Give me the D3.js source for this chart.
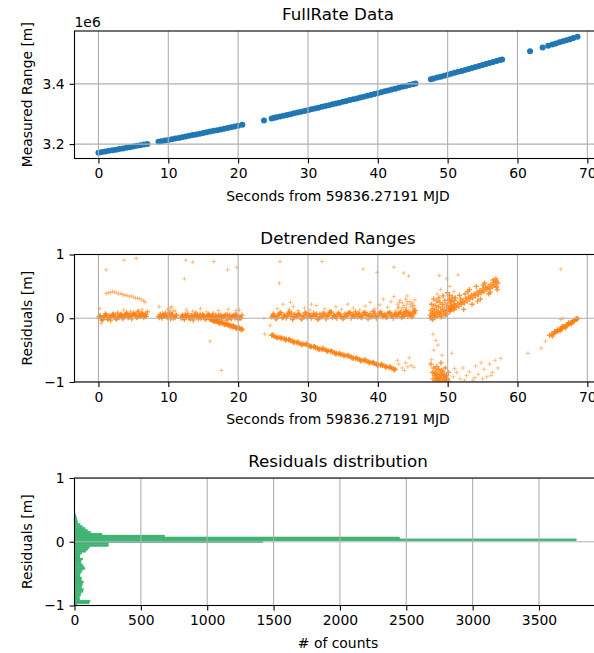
<!DOCTYPE html>
<html><head><meta charset="utf-8">
<script src="https://cdn.jsdelivr.net/npm/d3@7"></script>
<style>
body{margin:0;background:#fff;overflow:hidden}
svg{display:block}
text{font-family:"DejaVu Sans",sans-serif;fill:#000}
</style>
</head><body>
<svg id="chart" width="594" height="653"></svg>
<script>
// ---------------- DATA ----------------
const titles = ["FullRate Data", "Detrended Ranges", "Residuals distribution"];
const xLabels = ["Seconds from 59836.27191 MJD", "Seconds from 59836.27191 MJD", "# of counts"];
const yLabels = ["Measured Range [m]", "Residuals [m]", "Residuals [m]"];
const timeTicks = [0, 10, 20, 30, 40, 50, 60, 70];
const rangeTicks = [3.2, 3.4];          // in units of 1e6 m
const rangeOffsetLabel = "1e6";
const residualTicks = [-1, 0, 1];
const countTicks = [0, 500, 1000, 1500, 2000, 2500, 3000, 3500];

// Measured range [1e6 m] vs seconds
const rangeSamples = [
[0,3.1714],[0.5,3.1734],[1,3.1754],[1.5,3.1775],[2,3.1795],[2.5,3.1816],[3,3.1836],[3.5,3.1857],[4,3.1878],[4.5,3.1899],[5,3.1920],[5.5,3.1942],[6,3.1963],[6.5,3.1985],[7,3.2006],
[8.6,3.2076],[9,3.2094],[9.5,3.2116],[10,3.2138],[10.5,3.2161],[11,3.2183],[11.5,3.2206],[12,3.2229],[12.5,3.2252],[13,3.2275],[13.5,3.2298],[14,3.2321],[14.5,3.2344],[15,3.2368],[15.5,3.2391],[16,3.2415],[16.5,3.2439],[17,3.2463],[17.5,3.2487],[18,3.2511],[18.5,3.2536],[19,3.2560],[19.5,3.2585],[20,3.2609],[20.6,3.2639],
[23.7,3.2785],
[24.8,3.2852],[25.2,3.2872],[25.5,3.2888],[26,3.2914],[26.5,3.2940],[27,3.2967],[27.5,3.2993],[28,3.3020],[28.5,3.3046],[29,3.3073],[29.5,3.3100],[30,3.3127],[30.5,3.3154],[31,3.3181],[31.5,3.3208],[32,3.3236],[32.5,3.3263],[33,3.3291],[33.5,3.3319],[34,3.3347],[34.5,3.3375],[35,3.3403],[35.5,3.3431],[36,3.3460],[36.5,3.3488],[37,3.3517],[37.5,3.3545],[38,3.3574],[38.5,3.3603],[39,3.3632],[39.5,3.3662],[40,3.3691],[40.5,3.3720],[41,3.3750],[41.5,3.3779],[42,3.3809],[42.5,3.3839],[43,3.3869],[43.5,3.3899],[44,3.3930],[44.5,3.3960],[45,3.3990],[45.4,3.4015],
[47.6,3.4151],[48,3.4176],[48.5,3.4207],[49,3.4238],[49.5,3.4270],[50,3.4302],[50.5,3.4333],[51,3.4365],[51.5,3.4397],[52,3.4429],[52.5,3.4461],[53,3.4494],[53.5,3.4526],[54,3.4559],[54.5,3.4591],[55,3.4624],[55.5,3.4657],[56,3.4690],[56.5,3.4723],[57,3.4757],[57.5,3.4790],[57.8,3.4810],
[61.8,3.5082],[63.6,3.5207],
[64.4,3.5263],[65,3.5305],[65.5,3.5340],[66,3.5376],[66.5,3.5411],[67,3.5447],[67.5,3.5482],[68,3.5518],[68.6,3.5561]
];

// Detrended residuals [m] vs seconds — dense tracks
const bandPoints = [
[0,0],[0.25,0.04],[0.5,-0.03],[0.75,0.02],[1,0.07],[1.25,0],[1.5,0.04],[1.75,-0.03],[2,0.06],[2.25,0.02],[2.5,-0.01],[2.75,0.08],[3,0.02],[3.25,0.06],[3.5,-0.01],[3.75,0.04],[4,0.08],[4.25,0.01],[4.5,0.06],[4.75,-0.01],[5,0.08],[5.25,0.04],[5.5,0.01],[5.75,0.1],[6,0.03],[6.25,0.08],[6.5,0.01],[6.75,0.06],[7,0.1],
[0.12,0.03],[0.62,-0.02],[1.12,0.05],[1.62,0.01],[2.12,0.06],[2.62,-0.01],[3.12,0.05],[3.62,0.02],[4.12,0.07],[4.62,0.03],[5.12,0.06],[5.62,0.02],[6.12,0.07],[6.62,0.04],
[0.37,0.01],[0.87,0.04],[1.37,-0.02],[1.87,0.03],[2.37,0.05],[2.87,0.01],[3.37,0.04],[3.87,0.06],[4.37,0.02],[4.87,0.05],[5.37,0.07],[5.87,0.04],[6.37,0.06],[6.87,0.03],
[8.6,0.03],[8.85,0.06],[9.1,0],[9.35,0.04],[9.6,0.08],[9.85,0.01],[10.1,0.05],[10.35,-0.01],[10.6,0.06],[10.85,0.02],[11.1,0.04],
[8.72,0.01],[9.22,0.07],[9.72,0.03],[10.22,0.09],[10.72,0],[11.2,0.05],
[8.97,0.02],[9.47,0.05],[9.97,0.03],[10.47,0.06],[10.97,0.01],
[11.8,0],[12.05,0.05],[12.3,-0.02],[12.55,0.03],[12.8,0.07],[13.05,0.01],[13.3,0.04],[13.55,-0.03],[13.8,0.05],[14.05,0.02],[14.3,-0.01],[14.55,0.06],[14.8,0.01],[15.05,0.04],[15.3,-0.02],[15.55,0.03],[15.8,0.06],[16.05,0],[16.3,0.03],[16.55,-0.03],[16.8,0.05],[17.05,0.01],[17.3,-0.02],[17.55,0.04],[17.8,0],[18.05,0.03],[18.3,-0.03],[18.55,0.02],[18.8,0.05],[19.05,-0.01],[19.3,0.03],[19.55,0],[19.8,0.04],[20.05,-0.02],[20.3,0.02],[20.55,0.05],
[11.92,0.03],[12.42,0.06],[12.92,0],[13.42,0.04],[13.92,0.08],[14.42,0.02],[14.92,0.06],[15.42,0.01],[15.92,0.04],[16.42,0.07],[16.92,0.02],[17.42,0.05],[17.92,0.03],[18.42,0.06],[18.92,0.01],[19.42,0.05],[19.92,0.02],[20.42,0],
[12.17,0.01],[12.67,0.04],[13.17,-0.01],[13.67,0.02],[14.17,0.05],[14.67,0],[15.17,0.03],[15.67,0.05],[16.17,0.02],[16.67,0],[17.17,0.04],[17.67,0.02],[18.17,0.05],[18.67,-0.01],[19.17,0.03],[19.67,0.06],[20.17,0.01],
[24.8,0.02],[25.1,0.07],[25.4,-0.01],[25.7,0.04],[26,0.09],[26.3,0.01],[26.6,0.05],[26.9,0],[27.2,0.08],[27.5,0.03],[27.8,-0.02],[28.1,0.06],
[28.4,0.02],[28.7,0.07],[29,-0.01],[29.3,0.04],[29.6,0.09],[29.9,0.01],[30.2,0.05],[30.5,0],[30.8,0.08],[31.1,0.03],[31.4,-0.02],[31.7,0.06],
[32,0.02],[32.3,0.07],[32.6,-0.01],[32.9,0.04],[33.2,0.09],[33.5,0.01],[33.8,0.05],[34.1,0],[34.4,0.08],[34.7,0.03],[35,-0.01],[35.3,0.07],
[35.6,0.03],[35.9,0.08],[36.2,0],[36.5,0.05],[36.8,0.1],[37.1,0.02],[37.4,0.06],[37.7,0.01],[38,0.09],[38.3,0.04],[38.6,-0.01],[38.9,0.07],
[39.2,0.03],[39.5,0.08],[39.8,0],[40.1,0.05],[40.4,0.1],[40.7,0.02],[41,0.06],[41.3,0.01],[41.6,0.09],[41.9,0.04],[42.2,0],[42.5,0.07],
[42.8,0.03],[43.1,0.08],[43.4,0.01],[43.7,0.06],[44,0.11],[44.3,0.03],[44.6,0.07],[44.9,0.02],[45.2,0.1],
[24.95,0.05],[25.55,0],[26.15,0.08],[26.75,0.03],[27.35,0.1],[27.95,0.02],[28.55,0.06],[29.15,-0.01],[29.75,0.07],[30.35,0.04],[30.95,0.05],[31.55,0],[32.15,0.08],[32.75,0.03],[33.35,0.1],[33.95,0.02],[34.55,0.06],[35.15,0.01],[35.75,0.08],[36.35,0.05],[36.95,0.06],[37.55,0.02],[38.15,0.09],[38.75,0.04],[39.35,0.11],[39.95,0.03],[40.55,0.07],[41.15,0.02],[41.75,0.09],[42.35,0.06],[42.95,0.07],[43.55,0.03],[44.15,0.09],[44.75,0.05],[45.35,0.12],
[25.25,0.03],[25.85,0.06],[26.45,0.01],[27.05,0.05],[27.65,0.08],[28.25,0.03],[28.85,0.05],[29.45,0.02],[30.05,0.06],[30.65,0.03],[31.25,0.07],[31.85,0.02],[32.45,0.05],[33.05,0.08],[33.65,0.04],[34.25,0.06],[34.85,0.02],[35.45,0.05],[36.05,0.09],[36.65,0.03],[37.25,0.07],[37.85,0.04],[38.45,0.06],[39.05,0.02],[39.65,0.05],[40.25,0.08],[40.85,0.04],[41.45,0.07],[42.05,0.03],[42.65,0.05],[43.25,0.09],[43.85,0.04],[44.45,0.06],[45.05,0.08]
];
const lowerBranchA = [
[16,-0.02],[16.2,-0.03],[16.4,-0.03],[16.6,-0.04],[16.8,-0.05],[17,-0.05],[17.2,-0.06],[17.4,-0.07],[17.6,-0.07],[17.8,-0.08],[18,-0.09],[18.2,-0.09],[18.4,-0.1],[18.6,-0.11],[18.8,-0.11],[19,-0.12],[19.2,-0.13],[19.4,-0.13],[19.6,-0.14],[19.8,-0.15],[20,-0.15],[20.2,-0.16],[20.4,-0.17],[20.6,-0.17],
[16.1,-0.01],[16.5,-0.05],[16.9,-0.04],[17.3,-0.08],[17.7,-0.06],[18.1,-0.1],[18.5,-0.09],[18.9,-0.13],[19.3,-0.12],[19.7,-0.16],[20.1,-0.14],[20.5,-0.18]
];
const lowerBranchB = [
[24.8,-0.27],[25.1,-0.28],[25.4,-0.29],[25.7,-0.3],[26,-0.3],[26.3,-0.31],[26.6,-0.32],[26.9,-0.33],[27.2,-0.34],[27.5,-0.35],[27.8,-0.36],[28.1,-0.37],[28.4,-0.38],[28.7,-0.39],[29,-0.4],[29.3,-0.4],[29.6,-0.41],[29.9,-0.42],[30.2,-0.43],[30.5,-0.44],[30.8,-0.45],[31.1,-0.46],[31.4,-0.47],[31.7,-0.48],[32,-0.49],[32.3,-0.49],[32.6,-0.5],[32.9,-0.51],[33.2,-0.52],[33.5,-0.53],[33.8,-0.54],[34.1,-0.55],[34.4,-0.56],[34.7,-0.57],[35,-0.57],[35.3,-0.58],[35.6,-0.59],[35.9,-0.6],[36.2,-0.61],[36.5,-0.62],[36.8,-0.63],[37.1,-0.64],[37.4,-0.65],[37.7,-0.66],[38,-0.66],[38.3,-0.67],[38.6,-0.68],[38.9,-0.69],[39.2,-0.7],[39.5,-0.71],[39.8,-0.72],[40.1,-0.73],[40.4,-0.74],[40.7,-0.74],[41,-0.75],[41.3,-0.76],[41.6,-0.77],[41.9,-0.78],[42.2,-0.79],[42.5,-0.8],
[24.95,-0.26],[25.55,-0.31],[26.15,-0.32],[26.75,-0.34],[27.35,-0.33],[27.95,-0.38],[28.55,-0.37],[29.15,-0.42],[29.75,-0.4],[30.35,-0.45],[30.95,-0.44],[31.55,-0.49],[32.15,-0.47],[32.75,-0.52],[33.35,-0.51],[33.95,-0.56],[34.55,-0.55],[35.15,-0.59],[35.75,-0.58],[36.35,-0.63],[36.95,-0.62],[37.55,-0.67],[38.15,-0.65],[38.75,-0.7],[39.35,-0.69],[39.95,-0.74],[40.55,-0.72],[41.15,-0.77],[41.75,-0.76],[42.35,-0.81]
];
const risingCloud = [
[47.5,0.05],[47.6,0.12],[47.7,0.02],[47.8,0.08],[47.9,0.15],[48,0.04],[48.1,0.1],[48.2,0.2],[48.3,0.06],[48.4,0.13],[48.5,0.03],[48.6,0.09],[48.7,0.18],[48.8,0.07],[48.9,0.25],[49,0.11],[49.1,0.05],[49.2,0.16],[49.3,0.22],[49.4,0.08],[49.5,0.13],[49.6,0.28],[49.7,0.1],[49.8,0.19],[49.9,0.06],[50,0.24],[50.1,0.14],[50.2,0.3],[50.3,0.11],[50.4,0.2],[50.5,0.26],[50.6,0.15],[50.7,0.33],[50.8,0.22],[50.9,0.13],[51,0.28],
[47.55,0],[47.85,-0.02],[48.15,0.01],[48.45,0.27],[48.75,0.32],[49.05,0.02],[49.35,0.35],[49.65,0.04],[49.95,0.4],[50.25,0.36],[47.7,0.22],[48,0.3],
[50,0.12],[50.2,0.16],[50.4,0.12],[50.6,0.18],[50.8,0.15],[51,0.2],[51.2,0.17],[51.4,0.23],[51.6,0.19],[51.8,0.25],[52,0.22],[52.2,0.27],[52.4,0.24],[52.6,0.31],[52.8,0.27],[53,0.33],[53.2,0.3],[53.4,0.36],[53.6,0.32],[53.8,0.38],[54,0.35],[54.2,0.41],[54.4,0.37],[54.6,0.43],[54.8,0.4],[55,0.46],[55.2,0.42],[55.4,0.48],[55.6,0.45],[55.8,0.5],[56,0.47],[56.2,0.53],[56.4,0.49],[56.6,0.56],[56.8,0.52],[57,0.58],[57.2,0.55],
[50.5,0.28],[51.1,0.32],[51.7,0.36],[52.3,0.14],[52.9,0.42],[53.5,0.22],[54.1,0.5],[54.7,0.3],[55.3,0.55],[55.9,0.38],[56.5,0.6],[57.1,0.45],[53.1,0.45],[54.3,0.27],[55.1,0.52],[56.1,0.41],[56.9,0.62],[57,0.49],[51.9,0.3],[52.5,0.38]
];
const lowCluster = [
[47.6,-0.72],[47.8,-0.85],[47.9,-0.95],[48,-0.78],[48.1,-0.9],[48.2,-0.98],[48.3,-0.83],[48.4,-0.93],[48.5,-0.88],[48.6,-0.97],[48.7,-0.8],[48.8,-0.91],[48.9,-0.86],[49,-0.95],[49.1,-0.89],[49.2,-0.99],[49.3,-0.84],[49.4,-0.93],[49.5,-0.97],[49.6,-0.88],[49.7,-0.92],[49.8,-0.98],[49.9,-0.9],[50,-0.95],[50.1,-0.85],[50.2,-0.99],
[48.25,-0.87],[48.55,-0.94],[48.85,-0.99],[49.15,-0.82],[49.45,-0.9],[49.75,-0.95],[48.45,-0.76],[49.05,-0.7],[49.65,-0.78]
];
const tailPoints = [
[64.6,-0.27],[64.9,-0.25],[65.2,-0.24],[65.4,-0.22],[65.6,-0.21],[65.8,-0.2],[66,-0.18],[66.2,-0.17],[66.4,-0.16],[66.6,-0.14],[66.8,-0.13],[67,-0.11],[67.2,-0.1],[67.4,-0.09],[67.6,-0.07],[67.8,-0.06],[68,-0.04],[68.2,-0.03],[68.4,-0.01],[68.6,0],
[65.3,-0.21],[65.7,-0.18],[66.1,-0.2],[66.5,-0.13],[66.9,-0.15],[67.3,-0.07],[67.7,-0.09],[68.1,-0.05],[68.5,-0.02],[65,-0.28],[66.3,-0.14]
];
// Detrended residuals — sparse points
const bandFuzz = [
[0.2,0.15],[0.4,-0.08],[3.6,0.13],[4.6,0.11],[5.6,0.12],[6.2,0.14],
[8.7,0.18],[9.9,0.14],[10.5,0.18],[10.7,0.12],[11,0.11],[10.3,0.16],
[12.6,0.13],[13.5,0.11],[14.6,0.15],[15.5,0.1],[17.2,0.12],[18.6,0.14],[19.7,0.12],[20.2,0.13],
[25.6,0.15],[26.4,0.22],[27.3,0.14],[27.9,0.18],[28.6,0.12],[29.5,0.16],[30.3,0.13],[31.2,0.2],[32.4,0.15],[33.1,0.12],[34,0.18],[34.8,0.14],[35.7,0.22],[36.5,0.16],[37.4,0.13],[38.2,0.19],[38.9,0.25],[39.6,0.15],[40.3,0.21],[40.8,0.3],[41.4,0.17],[41.9,0.26],[42.3,0.34],
[42.6,0.12],[42.8,0.22],[43,0.18],[43.2,0.28],[43.4,0.14],[43.5,0.24],[43.7,0.1],[43.8,0.2],[44,0.3],[44.1,0.16],[44.3,0.22],[44.4,0.12],[44.6,0.26],[44.7,0.18],[44.9,0.1],[45,0.24],[45.1,0.14],[45.2,0.2],[45.3,0.29],[45.4,0.08],
[42.7,0.08],[43.3,0.09],[43.9,0.08],[44.5,0.09],[45.1,0.05],[42.9,0.16],[43.6,0.17],[44.2,0.26],[44.8,0.22],[45.3,0.15],[43.1,0.25],[44,0.13],[45,0.18],[44.2,0.35],
[48.5,0.38],[49,0.45],[50.3,0.5],[50.9,0.42]
];
const upperArc = [
[1.1,0.39],[1.4,0.4],[1.7,0.4],[2,0.42],[2.3,0.41],[2.6,0.4],[2.9,0.38],[3.2,0.39],[3.5,0.37],[3.8,0.36],[4.1,0.36],[4.4,0.34],[4.7,0.35],[5,0.33],[5.3,0.32],[5.6,0.31],[5.9,0.31],[6.2,0.29],[6.5,0.27],[6.7,0.25]
];
const scatterLow = [
[43,-0.72],[43.5,-0.78],[44,-0.7],[44.3,-0.76],[44.8,-0.74],[45.2,-0.77],[43.8,-0.82],[42.8,-0.66],[44.5,-0.62],
[47.7,-0.65],[48,-0.5],[48.3,-0.35],[47.9,-0.25],[48.6,-0.42],[49.2,-0.58],
[50.8,-0.92],[51.3,-0.85],[51.8,-0.95],[52.2,-0.78],[52.7,-0.9],[53.1,-0.84],[53.6,-0.97],[54,-0.75],[54.4,-0.88],[54.8,-0.7],[55.2,-0.8],[55.6,-0.92],[56,-0.72],[56.4,-0.85],[56.8,-0.66],[57.2,-0.78],[57.6,-0.63],[53.9,-0.93],[55,-0.95],[52.4,-0.97],[51,-0.79],[56.2,-0.9],[50.6,-0.55],
[63.4,-0.47],[64,-0.36],[61.5,-0.55],[66.2,-0.02],[66.5,0]
];
const outliers = [
[1.1,0.76],[3.65,0.91],[5.4,0.94],[12.5,0.91],[13.5,0.88],[12.3,0.62],[16.5,0.89],[18.5,0.76],[19.8,0.8],[26,0.89],[25.9,0.55],[32,0.89],[37.9,0.77],[39.9,0.72],[42.3,0.8],[43.7,0.71],[44.4,0.66],[48.8,0.67],[49.9,0.62],[51.5,0.68],[66.2,0.77],
[16,-0.36],[17.6,-0.82],[23.7,0],[23.8,-0.25],[24.6,-0.11],[27.5,0.25],[30.5,0.22]
];

// Histogram of residuals (horizontal bars)
const histBinStart = -1.005;
const histBinWidth = 0.03;
const histCounts = [16,110,117,40,36,45,49,64,67,55,57,62,67,52,54,42,41,50,58,79,70,59,48,50,62,40,41,54,85,100,112,255,255,1420,3782,2450,680,207,122,97,80,60,42,25,20,17,13,9,4];

// ---------------- LAYOUT ----------------
const svg = d3.select("#chart");
const L = 74.5, R = 601.5, H = 127.5;
const tops = [31, 254.5, 478];
const TICK = 13.9, TITLE = 16.7, TL = 4.9;
const blue = "#1f77b4", orange = "#ff7f0e", green = "#3cb371", gridC = "#b0b0b0";

const allT = rangeSamples.map(d => d[0]);
const [tMin, tMax] = d3.extent(allT);
const tPad = (tMax - tMin) * 0.05;
const xTime = d3.scaleLinear().domain([tMin - tPad, tMax + tPad]).range([L, R]);

const [rMin, rMax] = d3.extent(rangeSamples, d => d[1]);
const rPad = (rMax - rMin) * 0.05;
const yRange = d3.scaleLinear().domain([rMin - rPad, rMax + rPad]).range([tops[0] + H, tops[0]]);
const yRes1 = d3.scaleLinear().domain([-1, 1]).range([tops[1] + H, tops[1]]);
const yRes2 = d3.scaleLinear().domain([-1, 1]).range([tops[2] + H, tops[2]]);
const maxCount = d3.max(histCounts);
const xCount = d3.scaleLinear().domain([0, maxCount * 1.05]).range([L, R]);

const minus = v => String(v).replace("-", "\u2212");

function panel(i, x, y, xt, yt, fmtX, fmtY, drawMarks) {
  const top = tops[i], bottom = top + H;
  const g = svg.append("g");
  const clipId = "clip" + i;
  svg.append("clipPath").attr("id", clipId).append("rect")
    .attr("x", L).attr("y", top).attr("width", R - L).attr("height", H);
  const marks = g.append("g").attr("clip-path", `url(#${clipId})`);
  drawMarks(marks);
  const grid = g.append("g").attr("clip-path", `url(#${clipId})`)
    .attr("stroke", gridC).attr("stroke-width", 1.1);
  xt.forEach(v => grid.append("line").attr("x1", x(v)).attr("x2", x(v)).attr("y1", top).attr("y2", bottom));
  yt.forEach(v => grid.append("line").attr("x1", L).attr("x2", R).attr("y1", y(v)).attr("y2", y(v)));
  g.append("rect").attr("x", L).attr("y", top).attr("width", R - L).attr("height", H)
    .attr("fill", "none").attr("stroke", "#000").attr("stroke-width", 1.1);
  const ax = g.append("g").attr("transform", `translate(0,${bottom})`)
    .call(d3.axisBottom(x).tickValues(xt).tickSize(TL).tickPadding(TL).tickFormat(fmtX));
  const ay = g.append("g").attr("transform", `translate(${L},0)`)
    .call(d3.axisLeft(y).tickValues(yt).tickSize(TL).tickPadding(TL).tickFormat(fmtY));
  [ax, ay].forEach(a => {
    a.select(".domain").remove();
    a.selectAll("line").attr("stroke", "#000").attr("stroke-width", 1.1);
    a.selectAll("text").attr("font-size", TICK).attr("font-family", "DejaVu Sans").attr("fill", "#000");
  });
  g.append("text").attr("x", (L + R) / 2).attr("y", top - 11).attr("text-anchor", "middle")
    .attr("font-size", TITLE).text(titles[i]);
  g.append("text").attr("x", (L + R) / 2).attr("y", bottom + 42).attr("text-anchor", "middle")
    .attr("font-size", TICK).text(xLabels[i]);
  g.append("text").attr("transform", `translate(27,${top + H / 2}) rotate(-90)`)
    .attr("text-anchor", "middle").attr("dominant-baseline", "central")
    .attr("font-size", TICK).text(yLabels[i]);
  return g;
}

// Panel 1: FullRate Data
const p1 = panel(0, xTime, yRange, timeTicks, rangeTicks, d3.format("d"), d3.format(".1f"), m => {
  m.selectAll("circle").data(rangeSamples).join("circle")
    .attr("cx", d => xTime(d[0])).attr("cy", d => yRange(d[1])).attr("r", 3).attr("fill", blue);
});
p1.append("text").attr("x", L).attr("y", tops[0] - 4.5).attr("font-size", TICK).text(rangeOffsetLabel);

// Panel 2: Detrended Ranges
const denseGroups = [bandPoints, lowerBranchA, lowerBranchB, risingCloud, lowCluster, tailPoints];
const sparseGroups = [bandFuzz, upperArc, scatterLow, outliers];
panel(1, xTime, yRes1, timeTicks, residualTicks, d3.format("d"), minus, m => {
  const plus = (sel, pts, s, w, op) => sel.selectAll(null).data(pts).join("path")
    .attr("d", `M-${s},0H${s}M0,-${s}V${s}`)
    .attr("transform", d => `translate(${xTime(d[0])},${yRes1(d[1])})`)
    .attr("stroke", orange).attr("stroke-width", w).attr("stroke-opacity", op).attr("fill", "none");
  plus(m.append("g"), sparseGroups.flat(), 2.2, 1, 0.45);
  plus(m.append("g"), denseGroups.flat(), 2.6, 1.3, 0.85);
});

// Panel 3: Residuals distribution
panel(2, xCount, yRes2, countTicks, residualTicks, d3.format("d"), minus, m => {
  m.selectAll("rect").data(histCounts).join("rect")
    .attr("x", xCount(0))
    .attr("y", (c, i) => yRes2(histBinStart + (i + 1) * histBinWidth))
    .attr("width", c => xCount(c) - xCount(0))
    .attr("height", (c, i) => yRes2(histBinStart + i * histBinWidth) - yRes2(histBinStart + (i + 1) * histBinWidth))
    .attr("fill", green).attr("stroke", green).attr("stroke-width", 0.4);
});
</script>
</body></html>
